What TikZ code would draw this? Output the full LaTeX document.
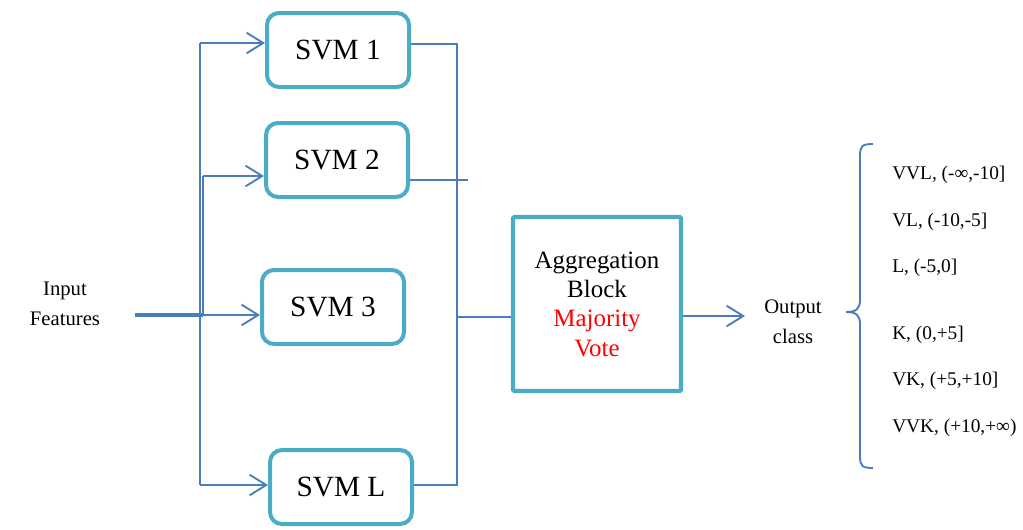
\documentclass[tikz,border=0pt]{standalone}
\usepackage{fontspec}
\setmainfont{Liberation Serif}
\usetikzlibrary{arrows.meta}
\definecolor{boxteal}{RGB}{75,172,198}
\definecolor{linkblue}{RGB}{74,126,187}
\begin{document}
\begin{tikzpicture}[x=0.75pt,y=-0.75pt,
  svmbox/.style={draw=boxteal,line width=3pt,rounded corners=9pt,
    minimum width=106.5pt,minimum height=55.5pt,inner sep=0pt,
    font=\fontsize{22}{26}\selectfont},
  aggbox/.style={draw=boxteal,line width=3.2pt,rounded corners=1pt,
    minimum width=126pt,minimum height=130.5pt,align=center,
    font=\fontsize{18.7}{22}\selectfont},
  lbl/.style={align=center,inner sep=0pt,font=\fontsize{15.5}{22.5}\selectfont},
  cls/.style={anchor=west,inner sep=0pt,font=\fontsize{14.5}{17}\selectfont},
  link/.style={draw=linkblue,line width=1.4pt},
  arr/.style={link,-{Straight Barb[length=12.5pt,width=15.5pt]}}
]
\useasboundingbox (0,0) rectangle (1023,529);

% classifier boxes
\node[svmbox] (s1) at (338,50)  {SVM 1};
\node[svmbox] (s2) at (337,160) {SVM 2};
\node[svmbox] (s3) at (333,307) {SVM 3};
\node[svmbox] (sL) at (341,487) {SVM L};

% aggregation block
\node[aggbox] (agg) at (597,304)
  {Aggregation\\Block\\\textcolor{red}{Majority}\\\textcolor{red}{Vote}};

% input and output labels
\node[lbl] (inp) at (65,304) {Input\\Features};
\node[lbl] (out) at (793,322) {Output\\class};

% input distribution
\coordinate (inA) at (135,315);
\coordinate (inB) at (203,315);
\coordinate (t1) at (200,43);
\coordinate (tL) at (200,485);
\coordinate (b2) at (203,176);
\draw[link,line width=3pt] (inA) -- (inB);
\draw[link] (t1) -- (tL);
\draw[arr] (t1) -- (t1 -| s1.west);
\draw[link] (inB) -- (b2);
\draw[arr] (b2) -- (b2 -| s2.west);
\draw[arr] (inB) -- (inB -| s3.west);
\draw[arr] (tL) -- (tL -| sL.west);

% classifier outputs to the aggregation block
\coordinate (o1) at (457,44);
\coordinate (oL) at (457,485);
\coordinate (o2) at (468,180);
\coordinate (oj) at (457,317);
\draw[link] (o1 -| s1.east) -- (o1) -- (oL) -- (oL -| sL.east);
\draw[link] (o2 -| s2.east) -- (o2);
\draw[link] (oj) -- (oj -| agg.west);

% output arrow
\coordinate (oa) at (745,316);
\draw[arr] (oa -| agg.east) -- (oa);

% class brace
\coordinate (bt) at (873,144);
\coordinate (bm) at (846,312);
\coordinate (bb) at (873,468);
\draw[link] (bt) .. controls (862,144) and (860,146) .. (860,156)
  -- (860,300) .. controls (860,309) and (856,312) .. (bm)
  .. controls (856,312) and (860,315) .. (860,324)
  -- (860,456) .. controls (860,466) and (862,468) .. (bb);

% output classes
\node[cls] (c1) at (892,175) {VVL, (-∞,-10]};
\node[cls] (c2) at (892,222) {VL, (-10,-5]};
\node[cls] (c3) at (892,268) {L, (-5,0]};
\node[cls] (c4) at (892,335) {K, (0,+5]};
\node[cls] (c5) at (892,381) {VK, (+5,+10]};
\node[cls] (c6) at (892,428) {VVK, (+10,+∞)};
\end{tikzpicture}
\end{document}
